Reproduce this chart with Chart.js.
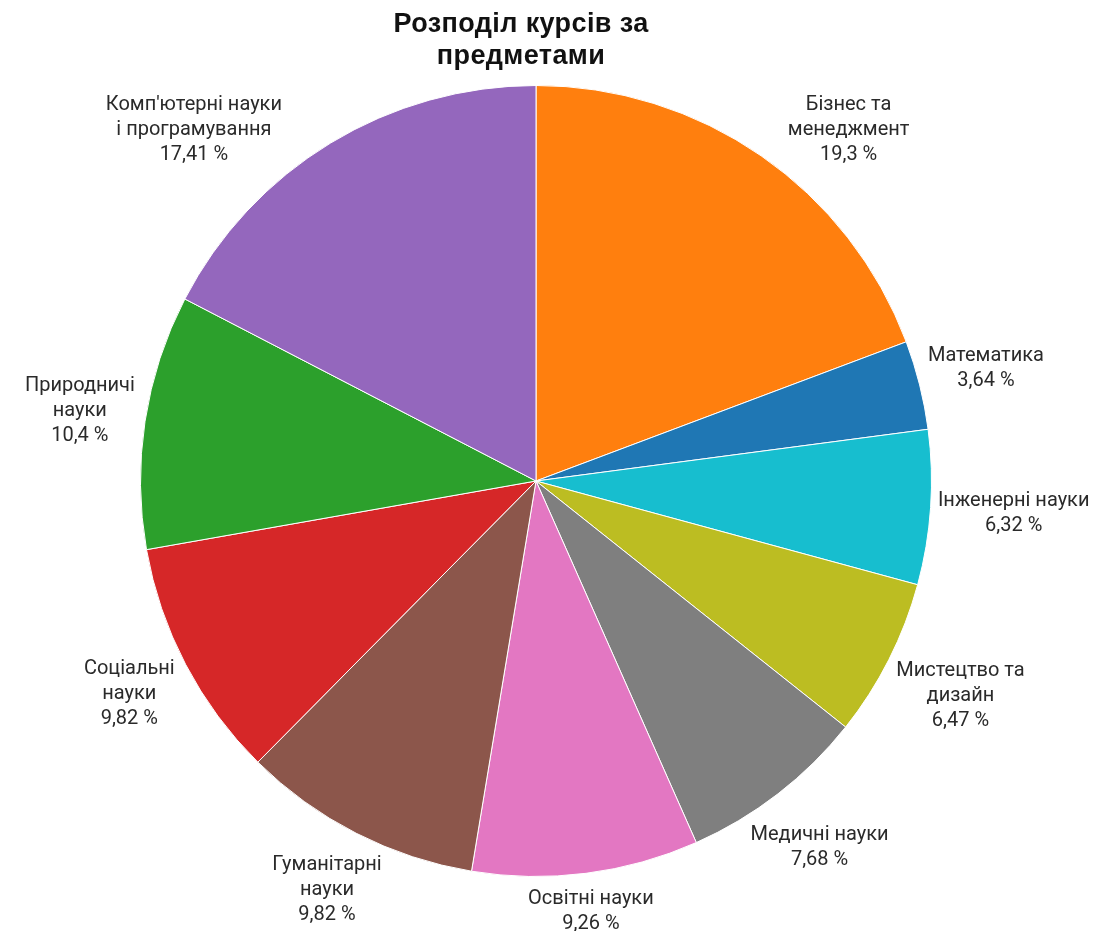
<!DOCTYPE html>
<html>
<head>
<meta charset="utf-8">
<script src="https://cdn.jsdelivr.net/npm/chart.js@4/dist/chart.umd.min.js"></script>
<style>
  html, body { margin: 0; padding: 0; background: #fff; }
  #wrap { width: 1094px; height: 931px; }
</style>
</head>
<body>
<div id="wrap"><canvas id="pieChart" width="1094" height="931"></canvas></div>
<script>
// Data
const categories = [
    ['Бізнес та', 'менеджмент'],
    ['Математика'],
    ['Інженерні науки'],
    ['Мистецтво та', 'дизайн'],
    ['Медичні науки'],
    ['Освітні науки'],
    ['Гуманітарні', 'науки'],
    ['Соціальні', 'науки'],
    ['Природничі', 'науки'],
    ['Комп\'ютерні науки', 'і програмування']
];
const shares = [19.3, 3.64, 6.32, 6.47, 7.68, 9.26, 9.82, 9.82, 10.4, 17.41];
const shareLabels = ['19,3 %', '3,64 %', '6,32 %', '6,47 %', '7,68 %', '9,26 %', '9,82 %', '9,82 %', '10,4 %', '17,41 %'];
const sliceColors = ['#ff7f0e', '#1f77b4', '#17becf', '#bcbd22', '#7f7f7f',
                     '#e377c2', '#8c564b', '#d62728', '#2ca02c', '#9467bd'];
const titleLines = ['Розподіл курсів за', 'предметами'];

// Title drawn by hand so it can sit a bit left of the pie centre
const titlePlugin = {
    id: 'handTitle',
    afterDraw(chart) {
        const ctx = chart.ctx;
        ctx.save();
        ctx.font = 'bold 27px "Liberation Sans", Arial, sans-serif';
        ctx.letterSpacing = '0.4px';
        ctx.fillStyle = '#111';
        ctx.textAlign = 'center';
        ctx.textBaseline = 'middle';
        titleLines.forEach((line, i) => {
            ctx.fillText(line, 521, 25 + i * 32);
        });
        ctx.restore();
    }
};

// Outside labels: name lines + percentage, pushed just past the rim,
// slid along the rim when they would run into the title area
const outsideLabels = {
    id: 'outsideLabels',
    afterDatasetsDraw(chart) {
        const ctx = chart.ctx;
        const meta = chart.getDatasetMeta(0);
        const lineH = 25;
        const minTop = chart.chartArea.top + 7;
        ctx.save();
        ctx.font = '20px Roboto, "Noto Sans", sans-serif';
        ctx.fillStyle = '#2a2a2a';
        ctx.textAlign = 'center';
        ctx.textBaseline = 'middle';
        meta.data.forEach((arc, i) => {
            const p = arc.getProps(['x', 'y', 'startAngle', 'endAngle', 'outerRadius'], true);
            const lines = categories[i].concat([shareLabels[i]]);
            let w = 0;
            lines.forEach(l => { w = Math.max(w, ctx.measureText(l).width); });
            const h = lines.length * lineH;

            let mid = (p.startAngle + p.endAngle) / 2;
            const fromTop = ((mid + Math.PI / 2) % (2 * Math.PI) + 2 * Math.PI) % (2 * Math.PI);
            const step = (fromTop < Math.PI ? 1 : -1) * Math.PI / 360;
            let cx, cy;
            for (let k = 0; k < 120; k++) {
                const ux = Math.cos(mid), uy = Math.sin(mid);
                const half = Math.abs(ux) * w / 2 + Math.abs(uy) * h / 2;
                const d = p.outerRadius + 6 + half;
                cx = p.x + ux * d;
                cy = p.y + uy * d;
                if (cy - h / 2 >= minTop) break;
                mid += step;
            }
            lines.forEach((l, k) => {
                ctx.fillText(l, cx, cy - h / 2 + lineH / 2 + k * lineH);
            });
        });
        ctx.restore();
    }
};

const ctx = document.getElementById('pieChart');
new Chart(ctx, {
    type: 'pie',
    data: {
        labels: categories.map(c => c.join(' ')),
        datasets: [{
            data: shares,
            backgroundColor: sliceColors,
            borderColor: '#ffffff',
            borderWidth: 1
        }]
    },
    options: {
        responsive: false,
        animation: false,
        devicePixelRatio: 1,
        layout: {
            padding: { top: 85, bottom: 54, left: 140, right: 162 }
        },
        plugins: {
            legend: { display: false },
            title: { display: false },
            tooltip: { enabled: false }
        }
    },
    plugins: [outsideLabels, titlePlugin]
});
</script>
</body>
</html>
